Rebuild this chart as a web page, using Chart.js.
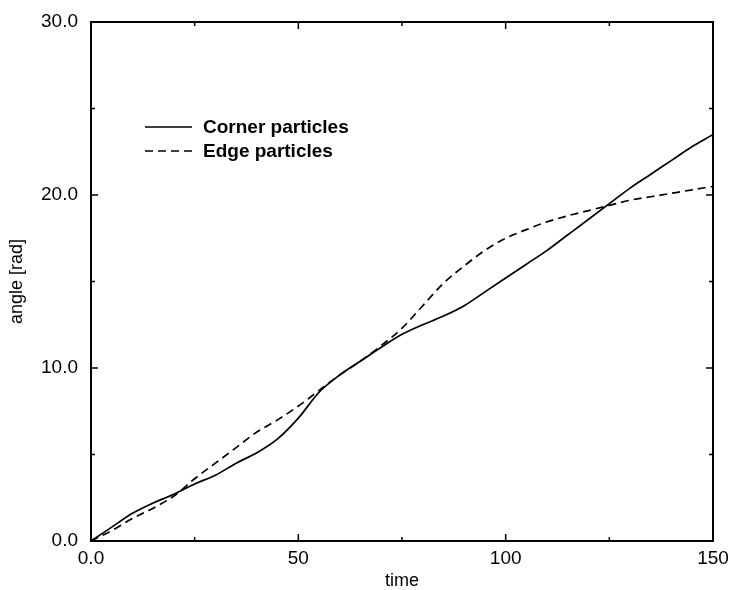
<!DOCTYPE html>
<html>
<head>
<meta charset="utf-8">
<script src="https://cdn.jsdelivr.net/npm/chart.js@4.4.0/dist/chart.umd.min.js"></script>
<style>
  html, body { margin: 0; padding: 0; background: #fff; }
  #wrap { width: 730px; height: 590px; }
</style>
</head>
<body>
<div id="wrap"><canvas id="c" width="730" height="590"></canvas></div>
<script>
// time values shared by both curves
const times = [0, 5, 10, 15, 20, 25, 30, 35, 40, 45, 50, 55, 60, 65, 70, 75, 80, 85, 90, 95,
  100, 105, 110, 115, 120, 125, 130, 135, 140, 145, 150];

// angle
const cornerAngle = [0, 0.8, 1.6, 2.2, 2.7, 3.3, 3.8, 4.5, 5.1, 5.9, 7.1, 8.6, 9.6, 10.4, 11.2, 11.95,
  12.5, 13.0, 13.6, 14.4, 15.2, 16.0, 16.8, 17.7, 18.6, 19.5, 20.4, 21.2, 22.0, 22.8, 23.5];
const edgeAngle = [0, 0.6, 1.3, 1.9, 2.6, 3.6, 4.5, 5.4, 6.3, 7.0, 7.8, 8.7, 9.6, 10.4, 11.3, 12.3,
  13.6, 14.9, 15.9, 16.8, 17.5, 18.0, 18.45, 18.8, 19.1, 19.4, 19.7, 19.9, 20.1, 20.3, 20.5];

const xTickValues = [0, 25, 50, 75, 100, 125, 150];
const xTickLabels = ['0.0', '', '50', '', '100', '', '150'];
const yTickValues = [0, 5, 10, 15, 20, 25, 30];
const yTickLabels = ['0.0', '', '10.0', '', '20.0', '', '30.0'];

const FONT = '"Liberation Sans", Arial, Helvetica, sans-serif';

function toPoints(ys) {
  return times.map((t, i) => ({ x: t, y: ys[i] }));
}

// border box + inward tick marks on all four sides (gnuplot look)
const frame = {
  id: 'frame',
  afterDraw(chart) {
    const { ctx, chartArea: a, scales } = chart;
    ctx.save();
    ctx.strokeStyle = '#000';
    ctx.lineWidth = 1.5;
    xTickValues.forEach((v, i) => {
      const px = scales.x.getPixelForValue(v);
      const len = xTickLabels[i] ? 7 : 4;
      ctx.beginPath();
      ctx.moveTo(px, a.bottom); ctx.lineTo(px, a.bottom - len);
      ctx.moveTo(px, a.top); ctx.lineTo(px, a.top + len);
      ctx.stroke();
    });
    yTickValues.forEach((v, i) => {
      const py = scales.y.getPixelForValue(v);
      const len = yTickLabels[i] ? 7 : 4;
      ctx.beginPath();
      ctx.moveTo(a.left, py); ctx.lineTo(a.left + len, py);
      ctx.moveTo(a.right, py); ctx.lineTo(a.right - len, py);
      ctx.stroke();
    });
    ctx.lineWidth = 2;
    ctx.strokeRect(a.left, a.top, a.right - a.left, a.bottom - a.top);

    // legend in the upper left of the plot
    ctx.font = 'bold 19px ' + FONT;
    ctx.textBaseline = 'middle';
    ctx.fillStyle = '#000';
    chart.data.datasets.forEach((ds, i) => {
      const y = 127 + i * 24;
      ctx.lineWidth = 1.7;
      ctx.setLineDash(ds.borderDash || []);
      ctx.beginPath();
      ctx.moveTo(145, y); ctx.lineTo(192, y);
      ctx.stroke();
      ctx.setLineDash([]);
      ctx.fillText(ds.label, 203, y + 1);
    });
    ctx.restore();
  }
};

new Chart(document.getElementById('c'), {
  type: 'line',
  data: {
    datasets: [
      {
        label: 'Corner particles',
        data: toPoints(cornerAngle),
        borderColor: '#000',
        borderWidth: 1.7,
        pointRadius: 0,
        cubicInterpolationMode: 'monotone',
        fill: false
      },
      {
        label: 'Edge particles',
        data: toPoints(edgeAngle),
        borderColor: '#000',
        borderWidth: 1.7,
        borderDash: [8, 5],
        pointRadius: 0,
        cubicInterpolationMode: 'monotone',
        fill: false
      }
    ]
  },
  options: {
    responsive: false,
    animation: false,
    layout: { padding: { left: 0, right: 17, top: 22, bottom: 0 } },
    plugins: { legend: { display: false }, tooltip: { enabled: false } },
    scales: {
      x: {
        type: 'linear',
        min: 0, max: 150,
        afterBuildTicks: s => { s.ticks = xTickValues.map(v => ({ value: v })); },
        afterFit: s => { s.height = 49; s.paddingLeft = 0; s.paddingRight = 0; },
        grid: { display: false, drawTicks: false },
        border: { display: false },
        ticks: {
          color: '#000',
          padding: 6,
          maxRotation: 0,
          autoSkip: false,
          font: { family: FONT, size: 19 },
          callback: v => xTickLabels[xTickValues.indexOf(v)]
        },
        title: {
          display: true,
          text: 'time',
          color: '#000',
          font: { family: FONT, size: 18, lineHeight: 1 },
          padding: { top: 0, bottom: 0 }
        }
      },
      y: {
        type: 'linear',
        min: 0, max: 30,
        afterBuildTicks: s => { s.ticks = yTickValues.map(v => ({ value: v })); },
        afterFit: s => { s.width = 91; s.paddingTop = 0; s.paddingBottom = 0; },
        grid: { display: false, drawTicks: false },
        border: { display: false },
        ticks: {
          color: '#000',
          padding: 13,
          autoSkip: false,
          font: { family: FONT, size: 19 },
          callback: v => yTickLabels[yTickValues.indexOf(v)]
        },
        title: {
          display: true,
          text: 'angle [rad]',
          color: '#000',
          font: { family: FONT, size: 18 },
          padding: { top: 6, bottom: 0 }
        }
      }
    }
  },
  plugins: [frame]
});
</script>
</body>
</html>
